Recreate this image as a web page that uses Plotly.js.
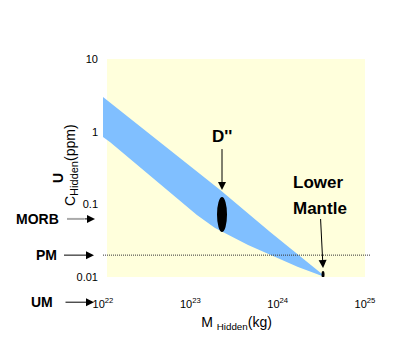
<!DOCTYPE html>
<html>
<head>
<meta charset="utf-8">
<script src="https://cdn.plot.ly/plotly-3.0.1.min.js"></script>
<style>html,body{margin:0;padding:0;background:#fff;}#chart{width:419px;height:360px;}</style>
</head>
<body>
<div id="chart"></div>
<script>
// ---- data ----
const bandTopX = [1e22, 2.2e23, 8.2e23, 3.3e24, 3.35e24];
const bandTopY = [3.0, 0.157, 0.0416, 0.0107, 0.0099];
const bandBotX = [1e22, 1.2e22, 1.19e23, 1.92e23, 4.58e23, 1.12e24, 1.71e24, 3.23e24];
const bandBotY = [0.845, 0.72, 0.0713, 0.0472, 0.0275, 0.0171, 0.0137, 0.0103];
const dppX = [2.02e23, 2.63e23];
const dppY = [0.0416, 0.126];
const lmX = [3.18e24, 3.44e24];
const lmY = [0.0097, 0.0121];
const refLabels = ['MORB', 'PM', 'UM'];
const refU = [0.063, 0.02, 0.0045];
const xTickVals = [1e22, 1e23, 1e24, 1e25];
const xTickText = ['10<sup>22</sup>', '10<sup>23</sup>', '10<sup>24</sup>', '10<sup>25</sup>'];
const yTickVals = [0.01, 0.1, 1, 10];
const yTickText = ['0.01', '0.1', '1', '10'];

// ---- layout helpers (pixel -> paper) ----
const L = 103, R = 370, T = 59, B = 277;
const px = v => (v - L) / (R - L);
const py = v => (B - v) / (B - T);
const FONT = 'Liberation Sans, Arial, Helvetica, sans-serif';

const polyX = bandTopX.concat(bandBotX.slice().reverse());
const polyY = bandTopY.concat(bandBotY.slice().reverse());

const traces = [{
  type: 'scatter', mode: 'lines', x: polyX, y: polyY,
  fill: 'toself', fillcolor: '#80BFFF', line: {width: 0, color: '#80BFFF'},
  hoverinfo: 'skip', showlegend: false
}];

const bold = (size) => ({size: size, color: '#000', family: FONT});
const arr = {showarrow: true, arrowhead: 2, arrowsize: 1.6, arrowwidth: 1, arrowcolor: '#000'};

const dppCx = Math.sqrt(dppX[0] * dppX[1]);
const lmCx = Math.sqrt(lmX[0] * lmX[1]);

const annotations = [
  // y axis title
  {text: 'C<sub><span style="font-size:11px">Hidden</span></sub>(ppm)', textangle: -90, xref: 'paper', yref: 'paper',
   x: px(71), y: py(165), xanchor: 'center', yanchor: 'middle', showarrow: false, font: {size: 14, color: '#000', family: FONT}},
  {text: '<b>U</b>', textangle: -90, xref: 'paper', yref: 'paper', x: px(58), y: py(178),
   xanchor: 'center', yanchor: 'middle', showarrow: false, font: bold(14)},
  // D'' with arrow
  Object.assign({text: "<b>D''</b>", xref: 'x', yref: 'y', x: Math.log10(dppCx), y: Math.log10(0.157),
   ax: 0, ay: -54, startstandoff: 2, font: bold(17)}, arr),
  // Lower Mantle
  {text: '<b>Lower</b>', xref: 'paper', yref: 'paper', x: px(318), y: py(182), xanchor: 'center', yanchor: 'middle',
   showarrow: false, font: bold(17)},
  Object.assign({text: '<b>Mantle</b>', xref: 'x', yref: 'y', x: Math.log10(lmCx), y: Math.log10(0.0133),
   ax: -3, ay: -60, startstandoff: 0, font: bold(17)}, arr),
  // reference reservoirs
  Object.assign({text: '<b>' + refLabels[0] + '</b>', xref: 'paper', yref: 'y', x: px(95), y: Math.log10(refU[0]),
   ax: -57.5, ay: 0, startstandoff: 24, font: bold(14)}, arr),
  Object.assign({text: '<b>' + refLabels[1] + '</b>', xref: 'paper', yref: 'y', x: px(94), y: Math.log10(refU[1]),
   ax: -48, ay: 0, startstandoff: 6, font: bold(14)}, arr),
  Object.assign({text: '<b>' + refLabels[2] + '</b>', xref: 'paper', yref: 'paper', x: px(94), y: (Math.log10(refU[2]) + 2) / 3,
   ax: -52, ay: 0, startstandoff: 11, font: bold(14)}, arr)
];

const shapes = [
  {type: 'rect', layer: 'below', xref: 'x', yref: 'paper', x0: Math.pow(10, 22.046), x1: 1e25, y0: 0, y1: 1,
   fillcolor: '#FFFFDC', line: {width: 0}},
  {type: 'line', layer: 'above', xref: 'paper', yref: 'y', x0: 0, x1: 1, y0: refU[1], y1: refU[1],
   line: {color: '#333', width: 1, dash: '1px,1px'}},
  {type: 'line', layer: 'above', xref: 'paper', yref: 'y', x0: px(67), x1: px(84), y0: refU[0], y1: refU[0],
   line: {color: '#AAAAAA', width: 2}},
  {type: 'circle', layer: 'above', xref: 'x', yref: 'y', x0: dppX[0], x1: dppX[1], y0: dppY[0], y1: dppY[1],
   fillcolor: '#000', line: {width: 0}},
  {type: 'circle', layer: 'above', xref: 'x', yref: 'y', x0: lmX[0], x1: lmX[1], y0: lmY[0], y1: lmY[1],
   fillcolor: '#000', line: {width: 0}}
];

const layout = {
  width: 419, height: 360,
  margin: {l: L, r: 419 - R, t: T, b: 360 - B, pad: 0},
  paper_bgcolor: '#fff', plot_bgcolor: '#fff',
  font: {family: FONT, color: '#000', size: 11},
  showlegend: false,
  xaxis: {type: 'log', range: [22, 22 + 3 * (R - L) / 262], tickmode: 'array', tickvals: xTickVals, ticktext: xTickText,
    showgrid: false, zeroline: false, showline: false, ticks: '', tickfont: {size: 11}, ticklabelstandoff: 19,
    automargin: false, fixedrange: true,
    title: {text: 'M <sub>Hidden</sub>(kg)', font: {size: 14}, standoff: 8}},
  yaxis: {type: 'log', range: [-2, 1], tickmode: 'array', tickvals: yTickVals, ticktext: yTickText,
    showgrid: false, zeroline: false, showline: false, ticks: '', tickfont: {size: 11}, ticklabelstandoff: 4,
    automargin: false, fixedrange: true},
  shapes: shapes,
  annotations: annotations
};

Plotly.newPlot('chart', traces, layout, {displayModeBar: false, staticPlot: true});
</script>
</body>
</html>
